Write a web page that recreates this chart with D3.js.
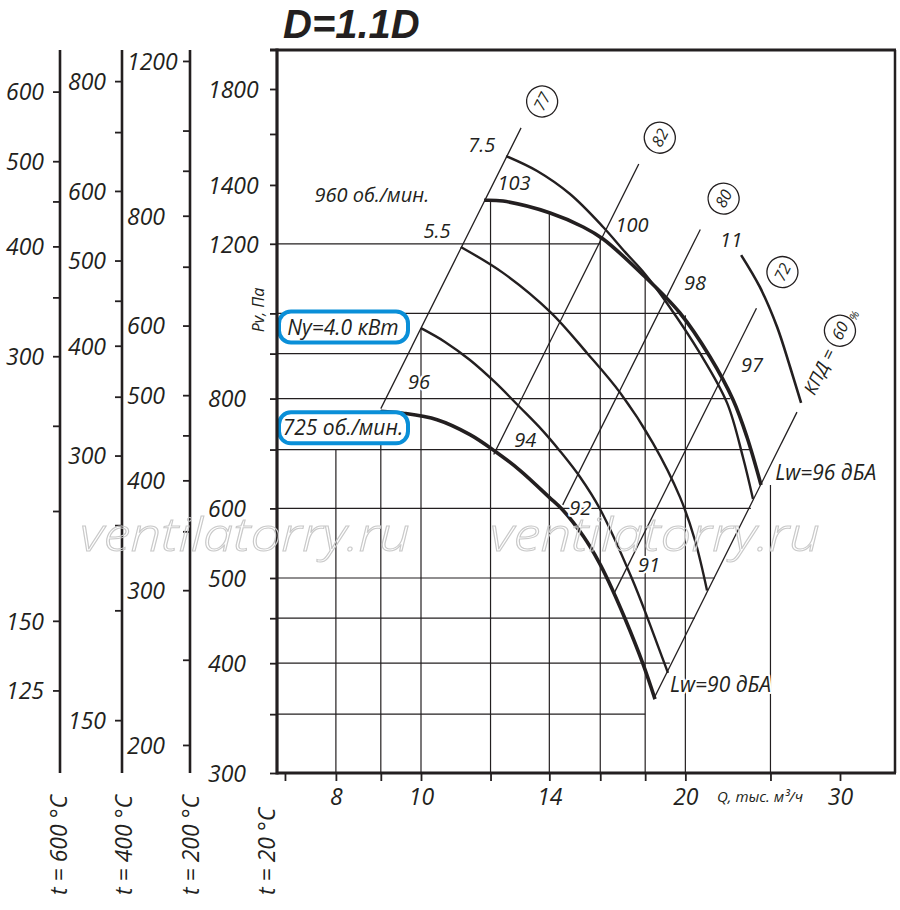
<!DOCTYPE html>
<html><head><meta charset="utf-8">
<script src="https://cdn.jsdelivr.net/npm/d3@7"></script>
<style>
body{margin:0;background:#fff}
svg{display:block;background:#fff}
text{font-family:"Open Sans",sans-serif;font-style:italic;fill:#231f20}
.halo{paint-order:stroke;stroke:#fff;stroke-width:4px;stroke-linejoin:round}
</style></head><body>
<svg id="c" width="900" height="910"></svg>
<script>
// ---------- DATA ----------
const temps = [600, 400, 200, 20];
const mainTicks = [1800,1600,1400,1200,1000,900,800,700,600,500,450,400,350,300];
const mainLabels = [1800,1400,1200,800,600,500,400,300];
const t200Ticks = [1200,1000,900,800,700,600,500,450,400,350,300,250,200];
const t200Labels = [1200,800,600,500,400,300,200];
const t400Ticks = [800,700,600,500,450,400,350,300,250,200,150];
const t400Labels = [800,600,500,400,300,150];
const t600Ticks = [600,500,450,400,350,300,250,200,150,125];
const t600Labels = [600,500,400,300,150,125];
const qTicks = [7,8,9,10,12,14,16,18,20,25,30];
const qLabels = [8,10,14,20,30];

// fan curves (Q thousand m3/h, Pv Pa)
const q725 = [9.0, 9.54, 10.43, 11.37, 12.14, 12.96, 13.99, 14.51, 15.30, 15.95, 16.33, 17.08, 17.90, 18.47];
const p725 = [774, 770, 757, 728, 697, 663, 618, 597, 558, 521, 497, 449, 399, 364];
const q40 = [10.0, 10.65, 11.37, 12.14, 12.96, 13.73, 14.40, 15.18, 15.99, 17.39, 18.13, 18.62, 19.11];
const p40 = [962, 928, 885, 835, 782, 737, 697, 651, 599, 499, 449, 418, 390];
const q55 = [11.10, 12.40, 14.03, 15.46, 16.86, 18.37, 19.72, 20.51, 21.17];
const p55 = [1190, 1112, 1004, 901, 812, 712, 618, 552, 484];
const q75 = [12.50, 13.56, 14.78, 16.12, 17.08, 17.99, 19.06, 20.78, 22.31, 23.26, 23.88];
const p75 = [1510, 1452, 1367, 1254, 1174, 1109, 1027, 901, 791, 686, 615];
const q960 = [11.80, 12.40, 14.03, 15.30, 16.12, 17.90, 19.72, 21.34, 22.67, 23.51, 24.39];
const p960 = [1345, 1342, 1301, 1254, 1215, 1106, 1001, 892, 797, 723, 638];
const q11 = [23.15, 24.32, 25.44, 26.32, 27.09];
const p11 = [1165, 1071, 965, 869, 791];

// efficiency (system) lines P = k*Q^2
const effLabels = ["77", "82", "80", "72", "60"];
const effK = [9.62, 4.72, 2.88, 1.745, 1.075];
const effQmin = [9.0, 12.1, 14.5, 16.6, 18.4];
const effQmax = [13.0, 17.7, 20.8, 24.1, 26.8];

// grid
const gridP = [1200, 1000, 900, 800, 700, 600, 500, 450, 400, 350];
const gridPEnd = [16.0, 19.7, 21.3, 22.5, 23.7, 23.75, 21.6, 20.5, 19.2, 18.0];
const gridQ = [8, 9, 10, 12, 14, 16, 18, 20, 25];
const gridQTop = [700, 776, 962, 1345, 1301, 1222, 1106, 995, 638];

// curve annotations
const noteText = ["7.5", "103", "5.5", "100", "98", "97", "11", "96", "94", "92", "91"];
const noteQ = [11.73, 12.76, 10.43, 17.39, 20.51, 23.82, 22.55, 9.95, 13.14, 15.18, 18.18];
const noteP = [1554, 1407, 1241, 1260, 1083, 874, 1212, 835, 718, 601, 517];

// ---------- DRAW ----------
const ink = "#231f20";
const svg = d3.select("#c");
const x = d3.scaleLog().domain([10, 30]).range([421, 840]);
const y = d3.scaleLog().domain([300, 1800]).range([773, 89]);
const X0 = 277, X1 = 895, Y0 = 50, Y1 = 773;

// grid lines
const grid = svg.append("g").attr("stroke", ink).attr("stroke-width", 1.2);
grid.selectAll("line.h").data(gridP).join("line").attr("class","h")
  .attr("x1", X0).attr("x2", (d,i) => x(gridPEnd[i]))
  .attr("y1", d => y(d)).attr("y2", d => y(d));
grid.selectAll("line.v").data(gridQ).join("line").attr("class","v")
  .attr("x1", d => x(d)).attr("x2", d => x(d))
  .attr("y1", (d,i) => y(gridQTop[i])).attr("y2", Y1);

// efficiency lines
const effG = svg.append("g");
effK.forEach((k, i) => {
  const a = [effQmin[i], k*effQmin[i]*effQmin[i]], b = [effQmax[i], k*effQmax[i]*effQmax[i]];
  effG.append("line").attr("x1", x(a[0])).attr("y1", y(a[1])).attr("x2", x(b[0])).attr("y2", y(b[1]))
    .attr("stroke", ink).attr("stroke-width", 1.3);
});

// fan curves
const line = d3.line().x(d => x(d[0])).y(d => y(d[1])).curve(d3.curveCatmullRom.alpha(0.5));
const curves = [
  [q725, p725, 3.6], [q40, p40, 2.4], [q55, p55, 2.4], [q75, p75, 2.4], [q960, p960, 3.6], [q11, p11, 2.6]
];
curves.forEach(([qs, ps, w]) => {
  svg.append("path").datum(qs.map((q,i) => [q, ps[i]])).attr("d", line)
    .attr("fill","none").attr("stroke", ink).attr("stroke-width", w).attr("stroke-linecap","butt");
});

// curve annotations
svg.append("g").selectAll("text").data(noteText).join("text").attr("class","halo")
  .attr("x", (d,i) => x(noteQ[i])).attr("y", (d,i) => y(noteP[i]))
  .attr("dy","0.36em").attr("text-anchor","middle").attr("font-size", 20).text(d => d);

// rpm / level labels
svg.append("text").attr("x", x(8.79)).attr("y", y(1363)).attr("dy","0.36em").attr("text-anchor","middle")
  .attr("font-size", 20).text("960 об./мин.");
svg.append("text").attr("class","halo").attr("x", x(25.31)).attr("y", y(660)).attr("dy","0.36em")
  .attr("font-size", 21).text("Lw=96 дБА");
svg.append("text").attr("class","halo").attr("x", x(19.21)).attr("y", y(378)).attr("dy","0.36em")
  .attr("font-size", 21).text("Lw=90 дБА");

// circled efficiency labels
const ang = -63.4, ux = Math.cos(ang*Math.PI/180), uy = Math.sin(ang*Math.PI/180);
const px_ = -uy, py_ = ux; // perpendicular (text "down")
const circDist = [33, 33, 38, 44];
effLabels.forEach((lab, i) => {
  if (i === 4) return;
  const q = effQmax[i], px = x(q), py = y(effK[i]*q*q);
  const cx = px + ux*circDist[i] + px_*7, cy = py + uy*circDist[i] + py_*7;
  const g = svg.append("g").attr("transform", `translate(${cx},${cy}) rotate(${ang})`);
  g.append("circle").attr("r", 15.5).attr("fill","#fff").attr("stroke", ink).attr("stroke-width", 1.3);
  g.append("text").attr("text-anchor","middle").attr("dy","0.36em").attr("font-size", 16).text(lab);
});
{
  const q = effQmax[4], px = x(q), py = y(effK[4]*q*q);
  const ox = px + ux*22 + px_*2, oy = py + uy*22 + py_*2;
  const g = svg.append("g").attr("transform", `translate(${ox},${oy}) rotate(${ang})`);
  g.append("text").attr("x", 0).attr("dy","0.36em").attr("font-size", 18).text("КПД =");
  g.append("circle").attr("cx", 70).attr("r", 15.5).attr("fill","#fff").attr("stroke", ink).attr("stroke-width", 1.3);
  g.append("text").attr("x", 70).attr("text-anchor","middle").attr("dy","0.36em").attr("font-size", 16).text(effLabels[4]);
  g.append("text").attr("x", 90).attr("y", 6).attr("dy","0.36em").attr("text-anchor","middle").attr("font-size", 11).text("%");
}

// boxed labels
function boxed(txt, q, p) {
  const t = svg.append("text").attr("x", x(q)).attr("y", y(p)).attr("dy","0.36em")
    .attr("text-anchor","middle").attr("font-size", 21).text(txt);
  svg.insert("rect", () => t.node()).attr("x", 279).attr("y", y(p) - 15.5).attr("width", 129).attr("height", 31)
    .attr("rx", 12).attr("fill","#fff").attr("stroke","#0a8fd8").attr("stroke-width", 4);
}
boxed("Ny=4.0 кВт", 8.15, 965);
boxed("725 об./мин.", 8.15, 741);

// frame
const fr = svg.append("g").attr("stroke", ink).attr("fill","none");
fr.append("line").attr("x1", 270).attr("x2", X1+1).attr("y1", Y0).attr("y2", Y0).attr("stroke-width", 3);
fr.append("line").attr("x1", X1).attr("x2", X1).attr("y1", Y0).attr("y2", Y1).attr("stroke-width", 2.5);
fr.append("line").attr("x1", X0).attr("x2", X1+1).attr("y1", Y1).attr("y2", Y1).attr("stroke-width", 3.2);
fr.append("line").attr("x1", X0).attr("x2", X0).attr("y1", Y0-1.5).attr("y2", Y1+1.5).attr("stroke-width", 3.2);

// main Y axis
function styleAxis(g, fs) {
  g.select(".domain").remove();
  g.attr("font-family", null).attr("font-size", fs);
  g.selectAll(".tick line").attr("stroke", ink).attr("stroke-width", 1.8);
  g.selectAll(".tick text").attr("fill", ink);
}
const gy = svg.append("g").attr("transform", `translate(${X0},0)`)
  .call(d3.axisLeft(y).tickValues(mainTicks).tickSize(7).tickFormat(d => mainLabels.includes(d) ? d : ""));
styleAxis(gy, 23);
gy.selectAll(".tick text").attr("x", 208 - X0).attr("text-anchor","start").attr("dy","0.36em");

// X axis
const gx = svg.append("g").attr("transform", `translate(0,${Y1})`)
  .call(d3.axisBottom(x).tickValues(qTicks).tickSize(8).tickFormat(d => qLabels.includes(d) ? d : ""));
styleAxis(gx, 23);
gx.selectAll(".tick text").attr("y", 16);

// temperature axes
const tAx = [
  {t: 600, ax: 60, ticks: t600Ticks, labels: t600Labels, lx: 6},
  {t: 400, ax: 122, ticks: t400Ticks, labels: t400Labels, lx: 68},
  {t: 200, ax: 190, ticks: t200Ticks, labels: t200Labels, lx: 127}
];
tAx.forEach(a => {
  const f = 293 / (273 + a.t);
  const yt = d3.scaleLog().domain([300*f, 1800*f]).range([773, 89]);
  const g = svg.append("g").attr("transform", `translate(${a.ax},0)`)
    .call(d3.axisLeft(yt).tickValues(a.ticks).tickSize(7).tickFormat(d => a.labels.includes(d) ? d : ""));
  styleAxis(g, 23);
  g.selectAll(".tick text").attr("x", a.lx - a.ax).attr("text-anchor","start").attr("dy","0.36em");
  svg.append("line").attr("x1", a.ax).attr("x2", a.ax).attr("y1", Y0).attr("y2", Y1)
    .attr("stroke", ink).attr("stroke-width", 2.6);
});

// temperature captions
const capX = [59, 124, 191, 267];
temps.forEach((t, i) => {
  svg.append("text").attr("transform", `translate(${capX[i] + 8},895) rotate(-90)`)
    .attr("font-size", 23).text(`t = ${t} °C`);
});

// axis titles
svg.append("text").attr("transform", "translate(264,310) rotate(-90)").attr("text-anchor","middle")
  .attr("font-size", 16).text("Pv, Па");
svg.append("text").attr("x", 717).attr("y", 802).attr("font-size", 15).text("Q, тыс. м³/ч");

// title
svg.append("text").attr("x", 283).attr("y", 38).attr("font-size", 40).attr("font-weight", 700)
  .style("font-family", "'Liberation Sans', Arial, sans-serif").text("D=1.1D");

// watermark
[80, 490].forEach(wx => {
  svg.append("text").attr("x", wx).attr("y", 551).attr("font-size", 46).attr("font-weight", 300)
    .attr("textLength", 330).attr("lengthAdjust", "spacingAndGlyphs")
    .style("fill", "none").attr("stroke", "#c9c9c9").attr("stroke-width", 1).text("ventilatorry.ru");
});
</script>
</body></html>
